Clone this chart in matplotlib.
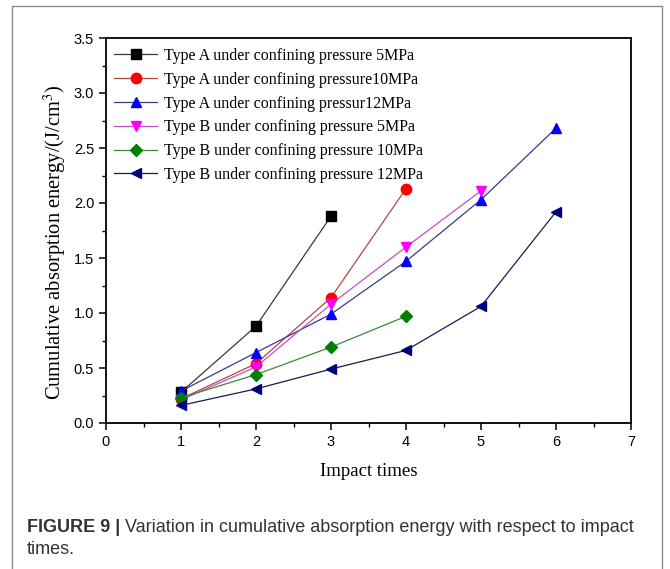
import numpy as np
import matplotlib
matplotlib.use("Agg")
import matplotlib.pyplot as plt
from matplotlib.patches import Rectangle
from matplotlib.ticker import MultipleLocator

plt.rcParams.update({
    "font.family": "Liberation Sans",
    "mathtext.fontset": "stix",
})

# data
impacts = [1, 2, 3, 4, 5, 6]
a_5mpa = [0.28, 0.88, 1.88]
a_10mpa = [0.22, 0.54, 1.14, 2.13]
a_12mpa = [0.29, 0.64, 0.99, 1.47, 2.03, 2.68]
b_5mpa = [0.21, 0.51, 1.08, 1.60, 2.11]
b_10mpa = [0.23, 0.44, 0.69, 0.97]
b_12mpa = [0.16, 0.31, 0.49, 0.66, 1.06, 1.92]

labels = ["Type A under confining pressure 5MPa",
          "Type A under confining pressure10MPa",
          "Type A under confining pressur12MPa",
          "Type B under confining pressure 5MPa",
          "Type B under confining pressure 10MPa",
          "Type B under confining pressure 12MPa"]
series = [a_5mpa, a_10mpa, a_12mpa, b_5mpa, b_10mpa, b_12mpa]
markers = ["s", "o", "^", "v", "D", "<"]
mcolors = ["#000000", "#ff0000", "#0000ff", "#ff00ff", "#008000", "#000080"]
lcolors = ["#3a3a3a", "#b04848", "#3a3a90", "#c050c0", "#3a8a3a", "#1a1a50"]
msizes = [6.5, 7.5, 7.5, 7.5, 6.5, 7.5]

W, H = 670, 569
fig = plt.figure(figsize=(W / 100, H / 100), dpi=100)
ax = fig.add_axes([106 / W, 1 - 423 / H, 525 / W, 385 / H])

for y, m, mc, lc, ms, lab in zip(series, markers, mcolors, lcolors, msizes, labels):
    ax.plot(impacts[:len(y)], y, color=lc, lw=0.9, marker=m, ms=ms,
            mfc=mc, mec=mc, label=lab)

ax.set_xlim(0, 7)
ax.set_ylim(0, 3.5)
ax.xaxis.set_major_locator(MultipleLocator(1))
ax.xaxis.set_minor_locator(MultipleLocator(0.5))
ax.yaxis.set_major_locator(MultipleLocator(0.5))
ax.yaxis.set_minor_locator(MultipleLocator(0.25))
ax.yaxis.set_major_formatter(lambda v, p: f"{v:.1f}")
ax.tick_params(which="major", direction="out", length=5, width=1.1, labelsize=10.5)
ax.tick_params(which="minor", direction="out", length=3, width=1.0)
for s in ax.spines.values():
    s.set_linewidth(1.3)

ax.set_xlabel("Impact times", family="Liberation Serif", fontsize=13.5, labelpad=10)
ax.set_ylabel("Cumulative absorption energy/(J/cm$^3$)", family="Liberation Serif",
              fontsize=14.8)
ax.yaxis.set_label_coords(-0.073, 0.47)

ax.legend(loc="upper left", bbox_to_anchor=(0.0, 0.995), frameon=False,
          prop={"family": "Liberation Serif", "size": 11.5},
          handlelength=2.7, handletextpad=0.45, labelspacing=0.49,
          borderaxespad=0.3, borderpad=0.2)

# outer frame of the figure panel
fig.add_artist(Rectangle((12 / W, -0.05), 650 / W, 1.05 - 6 / H,
                         transform=fig.transFigure, fill=False,
                         edgecolor="#8a8a8a", lw=1.0))

# caption
cap_y = 1 - 527 / H
t1 = fig.text(27 / W, cap_y, "FIGURE 9 | ", fontsize=13, fontweight="bold",
              color="#333333", va="center")
fig.canvas.draw()
bb = t1.get_window_extent()
fig.text(bb.x1 / W, cap_y, "Variation in cumulative absorption energy with respect to impact",
         fontsize=13, color="#333333", va="center")
fig.text(27 / W, 1 - 549 / H, "times.", fontsize=13, color="#333333", va="center")

fig.savefig("out.png", dpi=100)
